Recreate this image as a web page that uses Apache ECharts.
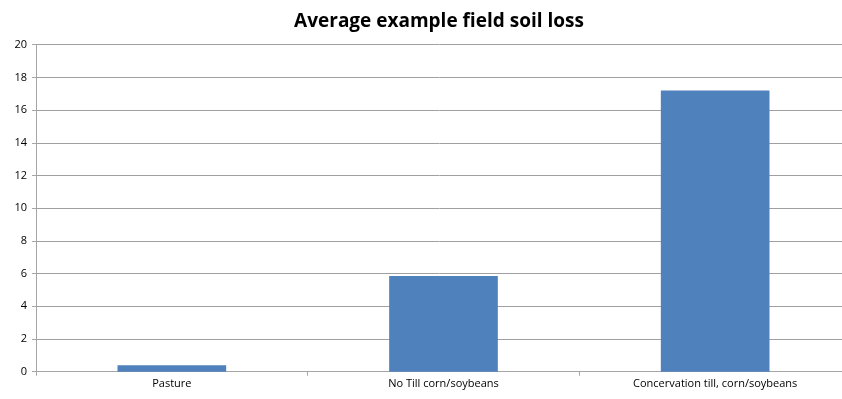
<!DOCTYPE html>
<html>
<head>
<meta charset="utf-8">
<script src="https://cdn.jsdelivr.net/npm/echarts@6/dist/echarts.min.js"></script>
<style>
  html, body { margin: 0; padding: 0; background: #fff; overflow: hidden; }
  #chart { width: 842px; height: 399px; }
</style>
</head>
<body>
<div id="chart"></div>
<script>
// Field types and their average soil loss
const categories = ['Pasture', 'No Till corn/soybeans', 'Concervation till, corn/soybeans'];
const soilLoss = [0.4, 5.85, 17.2];
const yTicks = { min: 0, max: 20, interval: 2 };

const chart = echarts.init(document.getElementById('chart'), null, { renderer: 'canvas' });

chart.setOption({
  animation: false,
  title: {
    text: 'Average example field soil loss',
    left: 434, top: 7,
    textAlign: 'center',
    textStyle: { fontFamily: 'Open Sans', fontWeight: 'bold', fontSize: 19, color: '#000' }
  },
  // plot area runs slightly past the right edge of the canvas
  grid: { left: 36, width: 815, top: 44.7, height: 327, containLabel: false, outerBoundsMode: 'none' },
  xAxis: {
    type: 'category',
    data: categories,
    axisLine: { lineStyle: { color: '#a6a6a6', width: 1 } },
    axisTick: { show: true, alignWithLabel: false, length: 4, lineStyle: { color: '#a6a6a6' } },
    axisLabel: { fontFamily: 'Open Sans', fontSize: 11, color: '#000', margin: 7 }
  },
  yAxis: {
    type: 'value',
    min: yTicks.min, max: yTicks.max, interval: yTicks.interval,
    axisLine: { show: true, lineStyle: { color: '#a6a6a6', width: 1 } },
    axisTick: { show: true, length: 4, lineStyle: { color: '#a6a6a6' } },
    axisLabel: { fontFamily: 'Open Sans', fontSize: 11, color: '#000', margin: 9 },
    splitLine: { lineStyle: { color: '#a0a0a0', width: 1 } }
  },
  series: [{
    type: 'bar',
    data: soilLoss,
    barWidth: '40%',
    itemStyle: { color: '#4f81bd' }
  }]
});
</script>
</body>
</html>
